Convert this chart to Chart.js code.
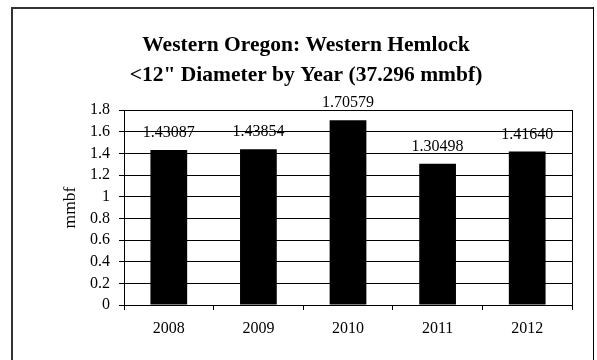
<!DOCTYPE html>
<html>
<head>
<meta charset="utf-8">
<script src="https://cdn.jsdelivr.net/npm/chart.js@4/dist/chart.umd.min.js"></script>
<style>
  html, body { margin: 0; padding: 0; background: #fff; }
  #wrap { width: 597px; height: 360px; position: relative; }
</style>
</head>
<body>
<div id="wrap"><canvas id="c" width="597" height="360"></canvas></div>
<script>
const categories = ['2008', '2009', '2010', '2011', '2012'];
const values = [1.43087, 1.43854, 1.70579, 1.30498, 1.41640];
const valueLabels = ['1.43087', '1.43854', '1.70579', '1.30498', '1.41640'];
const yTicks = [0, 0.2, 0.4, 0.6, 0.8, 1, 1.2, 1.4, 1.6, 1.8];
const yTickLabels = ['0', '0.2', '0.4', '0.6', '0.8', '1', '1.2', '1.4', '1.6', '1.8'];
const titleLines = ['Western Oregon: Western Hemlock', '<12" Diameter by Year (37.296 mmbf)'];
const yAxisTitle = 'mmbf';

const SERIF = '"Liberation Serif", "Times New Roman", serif';

const framePlugin = {
  id: 'frame',
  beforeDraw(chart) {
    const ctx = chart.ctx;
    ctx.save();
    ctx.fillStyle = '#fff';
    ctx.fillRect(0, 0, chart.width, chart.height);
    ctx.strokeStyle = '#333';
    ctx.lineWidth = 2;
    ctx.beginPath();
    ctx.moveTo(12, 370);
    ctx.lineTo(12, 8);
    ctx.lineTo(593, 8);
    ctx.stroke();
    ctx.strokeStyle = '#000';
    ctx.lineWidth = 1;
    ctx.beginPath();
    ctx.moveTo(593.5, 7);
    ctx.lineTo(593.5, 370);
    ctx.stroke();
    ctx.restore();
  },
  beforeDatasetsDraw(chart) {
    const a = chart.chartArea;
    const ctx = chart.ctx;
    ctx.save();
    ctx.strokeStyle = '#000';
    ctx.lineWidth = 1;
    ctx.strokeRect(Math.round(a.left) + 0.5, Math.round(a.top) + 0.5,
      Math.round(a.right - a.left), Math.round(a.bottom - a.top));
    ctx.restore();
  },
  afterDatasetsDraw(chart) {
    const ctx = chart.ctx;
    const meta = chart.getDatasetMeta(0);
    ctx.save();
    ctx.fillStyle = '#000';
    ctx.font = '16px ' + SERIF;
    ctx.textAlign = 'center';
    ctx.textBaseline = 'middle';
    meta.data.forEach((bar, i) => {
      ctx.fillText(valueLabels[i], bar.x, bar.y - 17);
    });
    ctx.restore();
  }
};

new Chart(document.getElementById('c'), {
  type: 'bar',
  data: {
    labels: categories,
    datasets: [{
      data: values,
      backgroundColor: '#000',
      borderWidth: 0,
      barPercentage: 0.41,
      categoryPercentage: 1
    }]
  },
  options: {
    responsive: false,
    animation: false,
    devicePixelRatio: 1,
    layout: { padding: { left: 40, right: 25, top: 20, bottom: 0 } },
    plugins: {
      legend: { display: false },
      tooltip: { enabled: false },
      title: {
        display: true,
        text: titleLines,
        color: '#000',
        font: { family: SERIF, size: 21.5, weight: 'bold', lineHeight: 1.4 },
        padding: { top: 10, bottom: 19.8 }
      }
    },
    scales: {
      x: {
        grid: { display: true, drawOnChartArea: false, drawTicks: true, tickLength: 5, color: '#000', offset: true },
        border: { display: true, color: '#000' },
        ticks: { color: '#000', font: { family: SERIF, size: 16 }, padding: 9, maxRotation: 0 },
        afterFit(s) { s.height = 55; }
      },
      y: {
        min: 0,
        max: 1.8,
        afterBuildTicks(s) { s.ticks = yTicks.map(v => ({ value: v })); },
        grid: { color: '#000', lineWidth: 1, tickLength: 5, drawTicks: true },
        border: { display: true, color: '#000' },
        ticks: {
          color: '#000',
          autoSkip: false,
          font: { family: SERIF, size: 16 },
          padding: 9,
          callback(v) { const i = yTicks.indexOf(v); return i >= 0 ? yTickLabels[i] : ''; }
        },
        title: { display: true, text: yAxisTitle, color: '#000', font: { family: SERIF, size: 17.5 }, padding: { top: 20, bottom: 4 } },
        afterFit(s) { s.width = 84; }
      }
    }
  },
  plugins: [framePlugin]
});
</script>
</body>
</html>
